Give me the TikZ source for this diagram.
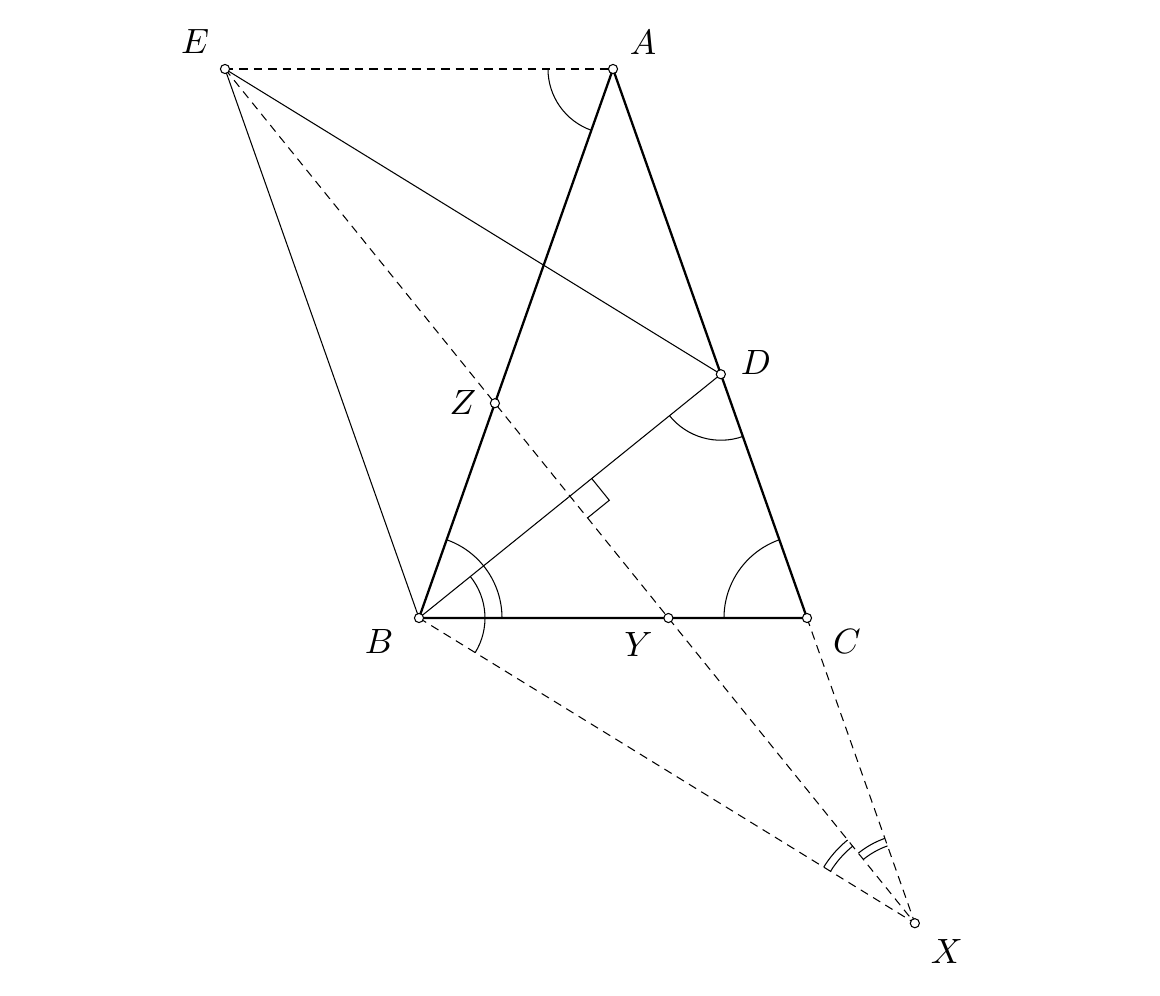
\documentclass[tikz,border=0pt]{standalone}
\usetikzlibrary{calc}
\begin{document}
\begin{tikzpicture}[
  thinline/.style={line width=0.3pt},
  side/.style={line width=0.65pt},
  aux/.style={line width=0.3pt, dash pattern=on 2.4pt off 1.7pt},
  pt/.style={circle, draw, fill=white, inner sep=0pt, minimum size=2.6pt, line width=0.3pt}
]
\useasboundingbox (-4.19,-3.77) rectangle (7.41,6.18);

\coordinate (B) at (0,0);
\coordinate (C) at (3.88,0);
\coordinate (A) at (1.94,5.49);
\coordinate (E) at (-1.94,5.49);
\coordinate (D) at (3.0185,2.4377);
\coordinate (Z) at (0.759,2.148);
\coordinate (Y) at (2.494,0);
\coordinate (X) at (4.9585,-3.052);
\coordinate (P) at (1.5094,1.2190);

\draw[side] (A) -- (B) -- (C) -- cycle;
\draw[thinline] (E) -- (B);
\draw[thinline] (B) -- (D);
\draw[thinline] (E) -- (D);
\draw[aux] (E) -- (A);
\draw[aux] (E) -- (Z) -- (Y) -- (X);
\draw[aux] (B) -- (X);
\draw[aux] (C) -- (X);

\draw[thinline] (1.7272,1.3949) -- (1.9031,1.1771) -- (1.6853,1.0012);

\draw[thinline] ($(A)+(180:0.65)$) arc (180:250.54:0.65);
\draw[thinline] ($(D)+(218.92:0.66)$) arc (218.92:289.46:0.66);
\draw[thinline] ($(C)+(109.46:0.83)$) arc (109.46:180:0.83);
\draw[thinline] ($(B)+(0:0.83)$) arc (0:70.54:0.83);
\draw[thinline] ($(B)+(-31.61:0.66)$) arc (-31.61:38.92:0.66);
\draw[thinline] ($(X)+(128.92:1.07)$) arc (128.92:148.39:1.07);
\draw[thinline] ($(X)+(128.92:0.99)$) arc (128.92:148.39:0.99);
\draw[thinline] ($(X)+(109.46:0.90)$) arc (109.46:128.92:0.90);
\draw[thinline] ($(X)+(109.46:0.82)$) arc (109.46:128.92:0.82);

\foreach \p in {A,B,C,D,E,X,Y,Z}
  \node[pt] (n\p) at (\p) {};

\node (lE) at ($(E)+(-0.30,0.28)$) {$E$};
\node (lA) at ($(A)+(0.30,0.27)$) {$A$};
\node (lD) at ($(D)+(0.35,0.12)$) {$D$};
\node (lZ) at ($(Z)+(-0.32,0.01)$) {$Z$};
\node (lB) at ($(B)+(-0.40,-0.23)$) {$B$};
\node (lY) at ($(Y)+(-0.30,-0.26)$) {$Y$};
\node (lC) at ($(C)+(0.40,-0.23)$) {$C$};
\node (lX) at ($(X)+(0.32,-0.28)$) {$X$};
\end{tikzpicture}
\end{document}
